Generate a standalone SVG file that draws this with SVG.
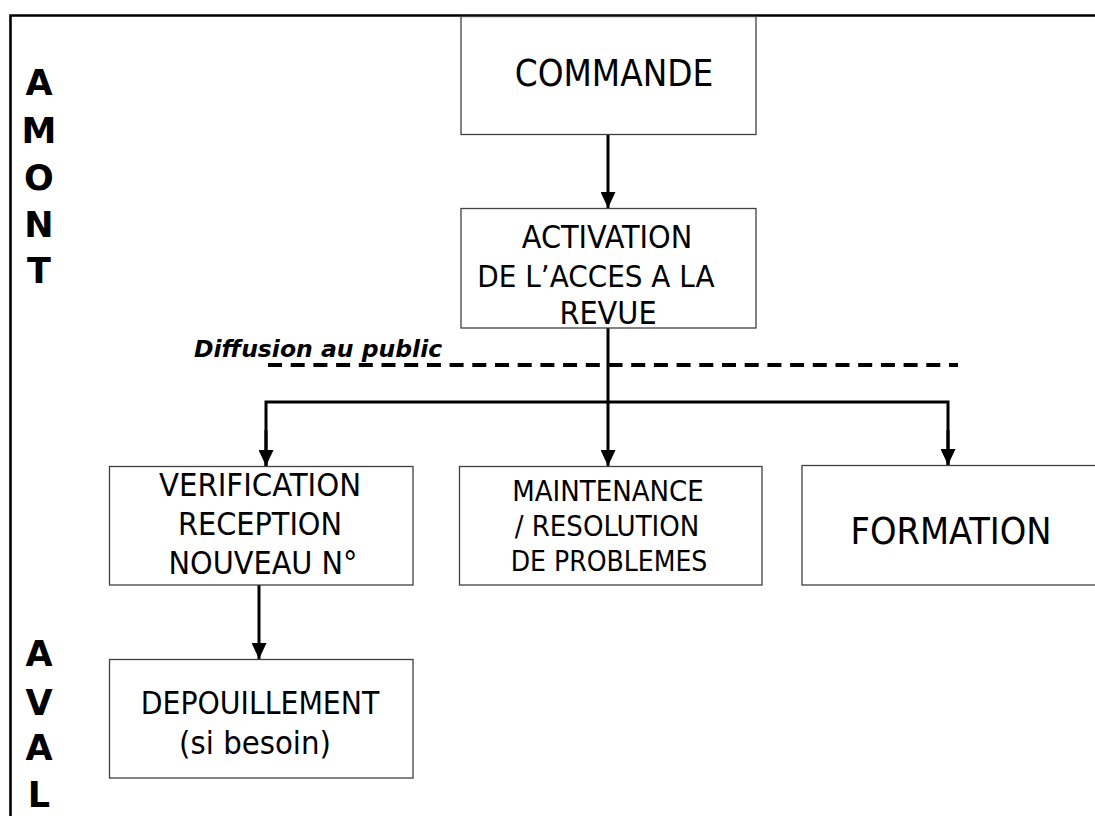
<svg xmlns="http://www.w3.org/2000/svg" width="1095" height="816" viewBox="0 0 1095 816">
<style>
.box{fill:#fff;stroke:#404040;stroke-width:1.3}
.t{font-family:"DejaVu Sans","Liberation Sans",sans-serif;font-stretch:condensed;fill:#000;text-anchor:middle}
.side{font-family:"DejaVu Sans","Liberation Sans",sans-serif;font-weight:bold;font-size:35px;fill:#000;text-anchor:middle}
.conn{stroke:#000;stroke-width:3;fill:none}
</style>
<defs>
<marker id="arr" markerUnits="userSpaceOnUse" markerWidth="16" markerHeight="15" refX="16" refY="7.5" orient="auto">
<path d="M0,0 L16,7.5 L0,15 z" fill="#000"/>
</marker>
</defs>
<rect width="1095" height="816" fill="#fff"/>
<g id="frame">
<path d="M10.5,816 V15.5 H1095" fill="none" stroke="#000" stroke-width="2.6"/>
</g>
<g id="side-labels">
<text class="side" x="39" y="95">A</text>
<text class="side" x="39" y="143">M</text>
<text class="side" x="39" y="190">O</text>
<text class="side" x="39" y="237">N</text>
<text class="side" x="39" y="283">T</text>
<text class="side" x="39" y="666">A</text>
<text class="side" x="39" y="715">V</text>
<text class="side" x="39" y="760">A</text>
<text class="side" x="39" y="807">L</text>
</g>
<g id="diffusion">
<text x="194" y="357" font-family="DejaVu Sans, Liberation Sans, sans-serif" font-weight="bold" font-style="italic" font-size="23.5">Diffusion au public</text>
<line x1="268" y1="365" x2="958" y2="365" stroke="#000" stroke-width="4" stroke-dasharray="14 8.7"/>
</g>
<g id="connectors">
<line class="conn" x1="608" y1="134" x2="608" y2="208" marker-end="url(#arr)"/>
<line class="conn" x1="608" y1="328" x2="608" y2="466" marker-end="url(#arr)"/>
<path class="conn" d="M266,466 V402 H948 V465" stroke-linejoin="miter"/>
<line class="conn" x1="266" y1="430" x2="266" y2="466" marker-end="url(#arr)"/>
<line class="conn" x1="948" y1="430" x2="948" y2="465" marker-end="url(#arr)"/>
<line class="conn" x1="259" y1="585" x2="259" y2="659" marker-end="url(#arr)"/>
</g>
<g id="commande">
<rect class="box" x="461" y="16.5" width="295" height="118"/>
<text class="t" x="614" y="86" font-size="36.5">COMMANDE</text>
</g>
<g id="activation">
<rect class="box" x="461" y="208.5" width="295" height="119.5"/>
<text class="t" x="607" y="248" font-size="32">ACTIVATION</text>
<text class="t" x="596" y="287" font-size="31">DE L’ACCES A LA</text>
<text class="t" x="608" y="324" font-size="32">REVUE</text>
</g>
<g id="verification">
<rect class="box" x="109.5" y="466.5" width="303.5" height="118.5"/>
<text class="t" x="260" y="496" font-size="32.5">VERIFICATION</text>
<text class="t" x="260" y="535" font-size="32">RECEPTION</text>
<text class="t" x="263" y="574" font-size="32">NOUVEAU N°</text>
</g>
<g id="maintenance">
<rect class="box" x="459.5" y="466.5" width="302.5" height="118.5"/>
<text class="t" x="608" y="501" font-size="29">MAINTENANCE</text>
<text class="t" x="607" y="536" font-size="29">/ RESOLUTION</text>
<text class="t" x="609" y="571" font-size="28">DE PROBLEMES</text>
</g>
<g id="formation">
<rect class="box" x="802" y="465.5" width="310" height="119.5"/>
<text class="t" x="951" y="544" font-size="37.5">FORMATION</text>
</g>
<g id="depouillement">
<rect class="box" x="109.5" y="659.5" width="303.5" height="118.5"/>
<text class="t" x="260" y="714" font-size="31.5">DEPOUILLEMENT</text>
<text class="t" x="255" y="754" font-size="32.5">(si besoin)</text>
</g>
</svg>
